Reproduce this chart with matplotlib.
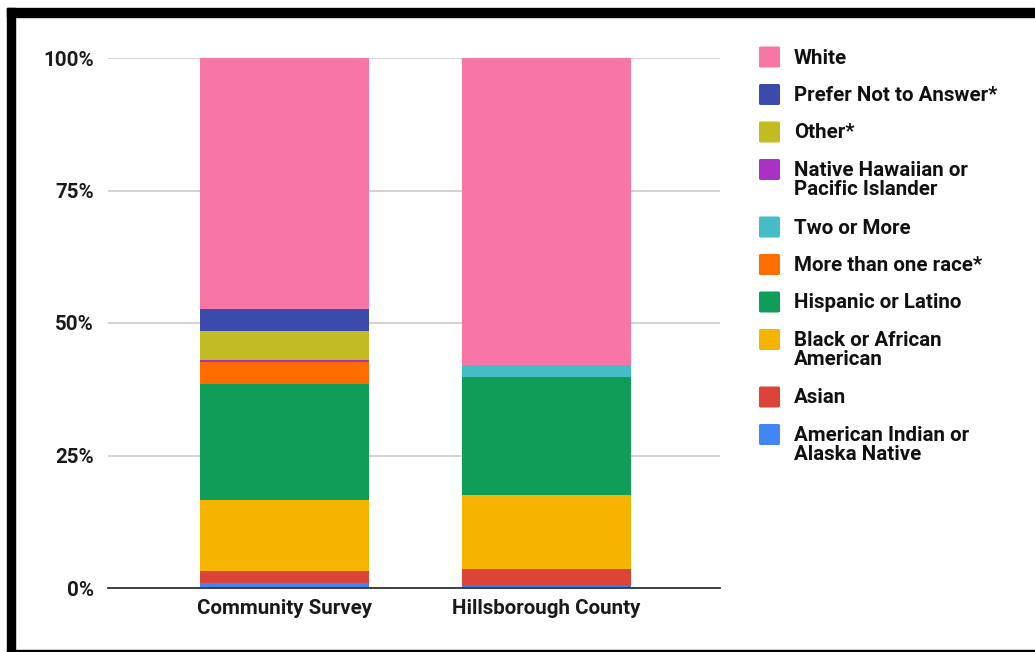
import matplotlib
matplotlib.use("Agg")
import matplotlib.pyplot as plt
from matplotlib.patches import Rectangle, FancyBboxPatch
import numpy as np

# ── DATA ──────────────────────────────────────────────────────────────────────
groups = ["Community Survey", "Hillsborough County"]

# stacked bottom -> top
series = [
    "American Indian or\nAlaska Native",
    "Asian",
    "Black or African\nAmerican",
    "Hispanic or Latino",
    "More than one race*",
    "Two or More",
    "Native Hawaiian or\nPacific Islander",
    "Other*",
    "Prefer Not to Answer*",
    "White",
]
values = {
    "American Indian or\nAlaska Native":     [1.0, 0.4],
    "Asian":                                 [2.3, 3.2],
    "Black or African\nAmerican":            [13.3, 13.9],
    "Hispanic or Latino":                    [21.9, 22.3],
    "More than one race*":                   [4.2, 0.0],
    "Two or More":                           [0.0, 2.3],
    "Native Hawaiian or\nPacific Islander":  [0.3, 0.0],
    "Other*":                                [5.5, 0.0],
    "Prefer Not to Answer*":                 [4.2, 0.0],
    "White":                                 [47.3, 57.9],
}
colors = {
    "American Indian or\nAlaska Native":     "#4285F4",
    "Asian":                                 "#DB4437",
    "Black or African\nAmerican":            "#F4B400",
    "Hispanic or Latino":                    "#0F9D58",
    "More than one race*":                   "#FF6D00",
    "Two or More":                           "#46BDC6",
    "Native Hawaiian or\nPacific Islander":  "#AB30C4",
    "Other*":                                "#C2BB22",
    "Prefer Not to Answer*":                 "#3B4BAC",
    "White":                                 "#F776A6",
}
yticks = [0, 25, 50, 75, 100]
ytick_labels = ["0%", "25%", "50%", "75%", "100%"]

# ── FIGURE ────────────────────────────────────────────────────────────────────
plt.rcParams["font.family"] = ["Roboto", "DejaVu Sans"]
FS = 14.8
W, H = 1035, 652
fig = plt.figure(figsize=(W / 100, H / 100), dpi=100)

# black frame (top, left, bottom)
for x0, y0, w, h in [(7, 8, W - 7, 9), (7, 8, 8, H - 8), (7, 650, W - 7, 2)]:
    fig.patches.append(Rectangle((x0 / W, 1 - (y0 + h) / H), w / W, h / H,
                                 transform=fig.transFigure, color="black",
                                 zorder=10))

ax = fig.add_axes([108 / W, (H - 588) / H, (720 - 108) / W, (588 - 58) / H])

x = np.arange(len(groups))
bottom = np.zeros(len(groups))
for name in series:
    v = np.array(values[name])
    ax.bar(x, v, bottom=bottom, width=0.645, color=colors[name],
           linewidth=0, zorder=2)
    bottom += v

ax.set_xlim(-0.674, 1.662)
ax.set_ylim(0, 100)
ax.set_yticks(yticks)
ax.set_yticklabels(ytick_labels, fontsize=FS, fontweight="bold", color="#1a1a1a")
ax.set_xticks(x)
ax.set_xticklabels(groups, fontsize=FS, fontweight="bold", color="#1a1a1a")
ax.tick_params(axis="both", length=0)
ax.tick_params(axis="y", pad=10)
ax.tick_params(axis="x", pad=8)
ax.grid(axis="y", color="#CCCCCC", linewidth=1.2, zorder=0)
for s in ["top", "right", "left"]:
    ax.spines[s].set_visible(False)
ax.spines["bottom"].set_color("#333333")
ax.spines["bottom"].set_linewidth(1.3)
ax.spines["bottom"].set_zorder(3)

# legend, top entry = last stacked series
ytop = 57
for name in reversed(series):
    fig.patches.append(FancyBboxPatch(
        (759 / W, 1 - (ytop + 10.5) / H), 21 / W, 21 / H,
        boxstyle="round,pad=0,rounding_size=0.002",
        transform=fig.transFigure, facecolor=colors[name],
        edgecolor="none"))
    fig.text(794 / W, 1 - (ytop - 8.5) / H, name, fontsize=FS,
             fontweight="bold", color="#111111", va="top", ha="left",
             linespacing=1.03)
    ytop += 37.5 + 20 * name.count("\n")

fig.savefig("out.png", dpi=100, facecolor="white")
